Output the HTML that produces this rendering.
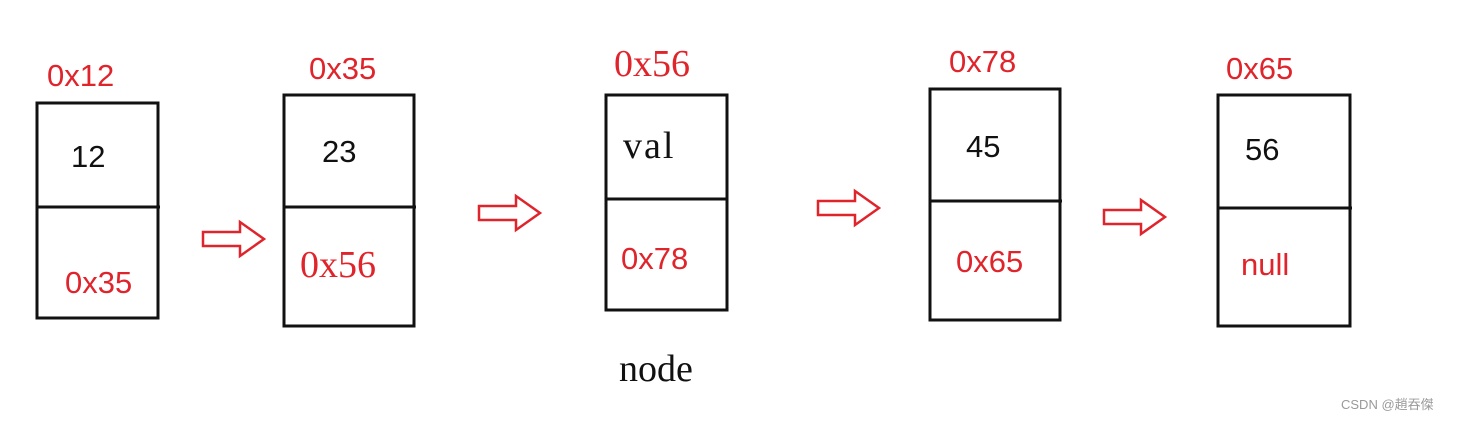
<!DOCTYPE html>
<html><head><meta charset="utf-8"><style>
html,body{margin:0;padding:0;background:#fff;}
svg{display:block}
.s{font-family:"Liberation Sans",sans-serif;font-size:31px}
.r{fill:#e0242b}
.k{fill:#111}
.sf{font-family:"Liberation Serif",serif;font-size:38px}
</style></head><body>
<svg width="1457" height="421" viewBox="0 0 1457 421" xmlns="http://www.w3.org/2000/svg">
<g fill="none" stroke="#111" stroke-width="3">
<rect x="37" y="103" width="121" height="215"/><line x1="37" y1="207" x2="160" y2="207"/>
<rect x="284" y="95" width="130" height="231"/><line x1="284" y1="207" x2="416" y2="207"/>
<rect x="606" y="95" width="121" height="215"/><line x1="606" y1="199" x2="727" y2="199"/>
<rect x="930" y="89" width="130" height="231"/><line x1="930" y1="201" x2="1062" y2="201"/>
<rect x="1218" y="95" width="132" height="231"/><line x1="1218" y1="208" x2="1352" y2="208"/>
</g>
<g fill="none" stroke="#e0242b" stroke-width="2.5" stroke-linejoin="miter">
<path d="M203 232 L240 232 L240 222 L264 239 L240 256 L240 246 L203 246 Z"/>
<path d="M479 206 L516 206 L516 196 L540 213 L516 230 L516 220 L479 220 Z"/>
<path d="M818 201 L855 201 L855 191 L879 208 L855 225 L855 215 L818 215 Z"/>
<path d="M1104 210 L1141 210 L1141 200 L1165 217 L1141 234 L1141 224 L1104 224 Z"/>
</g>
<text class="s r" x="47" y="86">0x12</text>
<text class="s r" x="309" y="79">0x35</text>
<text class="sf r" x="614" y="76">0x56</text>
<text class="s r" x="949" y="72">0x78</text>
<text class="s r" x="1226" y="79">0x65</text>
<text class="s k" x="71" y="167">12</text>
<text class="s r" x="65" y="293">0x35</text>
<text class="s k" x="322" y="162">23</text>
<text class="sf r" x="300" y="277">0x56</text>
<text class="sf k" x="623" y="158" letter-spacing="2">val</text>
<text class="s r" x="621" y="269">0x78</text>
<text class="s k" x="966" y="157">45</text>
<text class="s r" x="956" y="272">0x65</text>
<text class="s k" x="1245" y="160">56</text>
<text class="s r" x="1241" y="275">null</text>
<text class="sf k" x="619" y="381">node</text>
<text x="1341" y="409" font-family="'Liberation Sans','Noto Sans CJK SC',sans-serif" font-size="13" fill="#999">CSDN @趙吞傑</text>
</svg>
</body></html>
